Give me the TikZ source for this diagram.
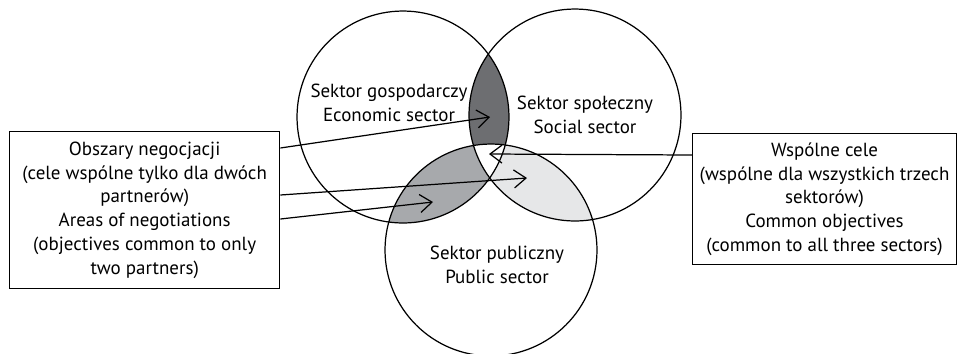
\documentclass[tikz,border=0pt]{standalone}
\usepackage{fontspec}
\setmainfont{PT Sans}
\usetikzlibrary{arrows.meta}
\definecolor{twodark}{HTML}{6D6E71}
\definecolor{twomid}{HTML}{A7A9AC}
\definecolor{twolight}{HTML}{E6E7E8}
\begin{document}
\begin{tikzpicture}[x=0.02cm,y=-0.02cm,line width=0.7pt,
  sector/.style={draw,circle,minimum size=4.24cm,inner sep=0pt},
  sectorlabel/.style={align=center,font=\fontsize{10.8}{13.6}\selectfont},
  infobox/.style={draw,line width=0.8pt,align=center,inner sep=4pt,font=\fontsize{10.8}{13.6}\selectfont},
  pointer/.style={-{Straight Barb[length=2.4mm,width=3.6mm]}}]
\useasboundingbox (0,0) rectangle (957,353);
\coordinate (econc) at (403,117);
\coordinate (socc) at (575,115);
\coordinate (pubc) at (491,250);
\begin{scope}
\clip (econc) circle[radius=106];
\clip (socc) circle[radius=106];
\fill[twodark] (econc) circle[radius=106];
\end{scope}
\begin{scope}
\clip (econc) circle[radius=106];
\clip (pubc) circle[radius=106];
\fill[twomid] (econc) circle[radius=106];
\end{scope}
\begin{scope}
\clip (socc) circle[radius=106];
\clip (pubc) circle[radius=106];
\fill[twolight] (socc) circle[radius=106];
\end{scope}
\begin{scope}
\clip (econc) circle[radius=106];
\clip (socc) circle[radius=106];
\fill[white] (pubc) circle[radius=106];
\end{scope}
\node[sector] (econ) at (econc) {};
\node[sector] (soc) at (socc) {};
\node[sector] (pub) at (pubc) {};
\node[sectorlabel] (econlab) at (389,103) {Sektor gospodarczy\\Economic sector};
\node[sectorlabel] (soclab) at (585,115) {Sektor społeczny\\Social sector};
\node[sectorlabel] (publab) at (497,265) {Sektor publiczny\\Public sector};
\node[infobox,minimum width=5.4cm,minimum height=3.14cm,anchor=north west] (negbox) at (9,131)
  {Obszary negocjacji\\(cele wspólne tylko dla dwóch\\partnerów)\\Areas of negotiations\\(objectives common to only\\two partners)};
\node[infobox,minimum width=5.26cm,minimum height=2.62cm,anchor=north west] (combox) at (692,133)
  {Wspólne cele\\(wspólne dla wszystkich trzech\\sektorów)\\Common objectives\\(common to all three sectors)};
\coordinate (econsoc) at (490,117);
\coordinate (socpub) at (527,178);
\coordinate (econpub) at (433,202);
\coordinate (allthree) at (489,154);
\draw[pointer] ([yshift=-17*0.02cm]negbox.north east) -- (econsoc);
\draw[pointer] ([yshift=-64*0.02cm]negbox.north east) -- (socpub);
\draw[pointer] ([yshift=-88*0.02cm]negbox.north east) -- (econpub);
\draw[pointer] ([yshift=-22*0.02cm]combox.north west) -- (allthree);
\end{tikzpicture}
\end{document}
